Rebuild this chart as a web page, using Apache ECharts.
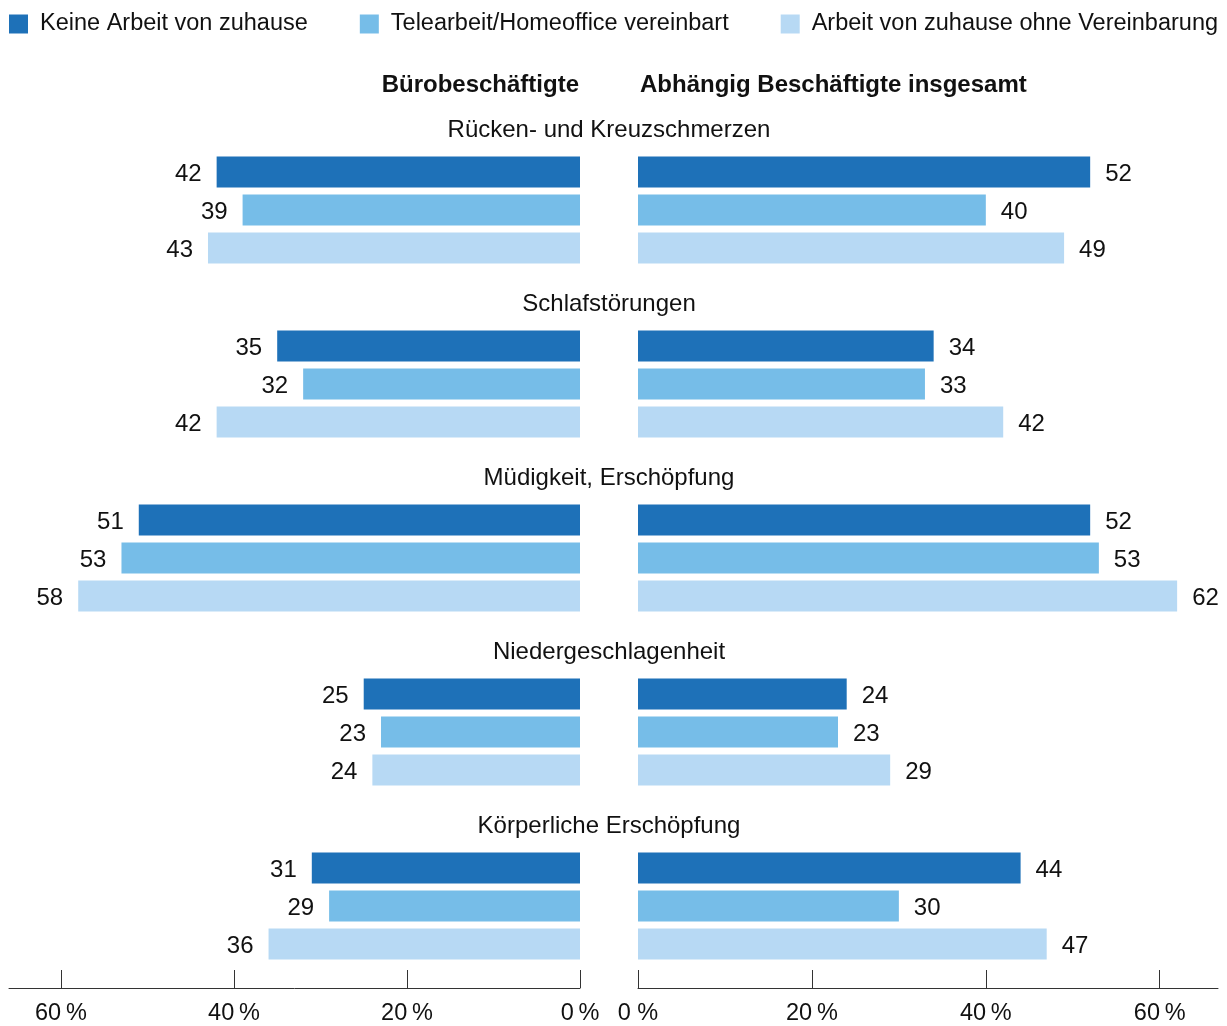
<!DOCTYPE html>
<html><head><meta charset="utf-8">
<script src="https://cdn.jsdelivr.net/npm/echarts@6/dist/echarts.min.js"></script>
<style>html,body{margin:0;padding:0;background:#fff}#c{width:1227px;height:1026px}</style>
</head><body><div id="c"></div>
<script>
const groups = ['Rücken- und Kreuzschmerzen','Schlafstörungen','Müdigkeit, Erschöpfung','Niedergeschlagenheit','Körperliche Erschöpfung'];
const seriesNames = ['Keine Arbeit von zuhause','Telearbeit/Homeoffice vereinbart','Arbeit von zuhause ohne Vereinbarung'];
const sideTitles = ['Bürobeschäftigte','Abhängig Beschäftigte insgesamt'];
// Bürobeschäftigte
const bueroKeine = [42,35,51,25,31];
const bueroTele  = [39,32,53,23,29];
const bueroOhne  = [43,42,58,24,36];
// Abhängig Beschäftigte insgesamt
const insgKeine = [52,34,52,24,44];
const insgTele  = [40,33,53,23,30];
const insgOhne  = [49,42,62,29,47];
const tickValues = [0,20,40,60];

const colors = ['#1e71b8','#76bde8','#b7d9f4'];
const FONT = '"Liberation Sans", Arial, sans-serif';
const FS = 24;
const TXT = '#111';
const sides = [[bueroKeine,bueroTele,bueroOhne],[insgKeine,insgTele,insgOhne]];

const grids=[], xAxes=[], yAxes=[], series=[];
const TOP0=153, STEP=174, GH=114;
sides.forEach((sideData, s) => {
  groups.forEach((g, gi) => {
    const idx = grids.length;
    grids.push(s===0 ? {left:9, width:571, top:TOP0+STEP*gi, height:GH}
                     : {left:638, width:580, top:TOP0+STEP*gi, height:GH});
    const bottom = gi===groups.length-1;
    xAxes.push({
      type:'value', gridIndex:idx, min:0, max: s===0?66:66.7, inverse: s===0,
      show: bottom, offset: 25, splitLine:{show:false},
      axisLine:{show:true, lineStyle:{color:'#333', width:1}},
      axisTick:{show:true, inside:true, length:18, lineStyle:{color:'#333'}, customValues: tickValues},
      axisLabel:{show:true, customValues: tickValues, margin:14, fontFamily:FONT, fontSize:23.5, color:TXT,
        formatter: v => (s===1 && v===0) ? '0 %' : v + '\u2009%'}
    });
    yAxes.push({type:'category', gridIndex:idx, inverse:true, show:false, data:['a','b','c']});
    sideData.forEach((arr, k) => {
      const d = [null,null,null]; d[k] = arr[gi];
      series.push({
        type:'bar', name: seriesNames[k], xAxisIndex:idx, yAxisIndex:idx,
        data:d, barWidth:31, barGap:'-100%', itemStyle:{color:colors[k]},
        label:{show:true, position: s===0?'left':'right', distance:15, offset:[0,2], fontFamily:FONT, fontSize:FS, color:TXT},
        emphasis:{disabled:true}, animation:false
      });
    });
  });
});

const graphics = [];
graphics.push({type:'text', x:579, y:85, style:{text:sideTitles[0], align:'right', verticalAlign:'middle', font:'bold '+FS+'px '+FONT, fill:TXT}});
graphics.push({type:'text', x:640, y:85, style:{text:sideTitles[1], align:'left', verticalAlign:'middle', font:'bold '+FS+'px '+FONT, fill:TXT}});
groups.forEach((g, gi) => {
  graphics.push({type:'text', x:609, y:130.5+STEP*gi, style:{text:g, align:'center', verticalAlign:'middle', font:FS+'px '+FONT, fill:TXT}});
});

const chart = echarts.init(document.getElementById('c'));
chart.setOption({
  animation:false,
  legend:{left:4, top:7, itemWidth:19, itemHeight:19, itemGap:52, icon:'rect',
    data: seriesNames, selectedMode:false,
    textStyle:{fontFamily:FONT, fontSize:23.5, color:TXT, padding:[0,0,0,7]}},
  grid: grids, xAxis: xAxes, yAxis: yAxes, series: series, graphic: graphics
});
</script></body></html>
